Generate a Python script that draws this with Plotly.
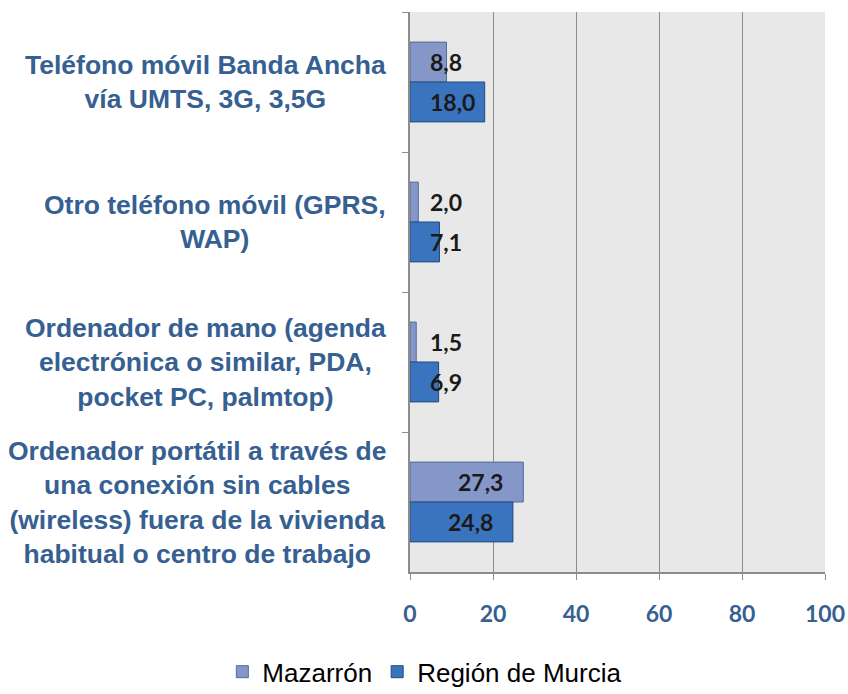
import plotly.graph_objects as go

categories = [
    "Teléfono móvil Banda Ancha<br>vía UMTS, 3G, 3,5G",
    "Otro teléfono móvil (GPRS,<br>WAP)",
    "Ordenador de mano (agenda<br>electrónica o similar, PDA,<br>pocket PC, palmtop)",
    "Ordenador portátil a través de<br>una conexión sin cables<br>(wireless) fuera de la vivienda<br>habitual o centro de trabajo",
]
series_names = ["Mazarrón", "Región de Murcia"]
mazarron = [8.8, 2.0, 1.5, 27.3]
murcia = [18.0, 7.1, 6.9, 24.8]
x_ticks = [0, 20, 40, 60, 80, 100]

BLUE_TXT = "#366092"
fig = go.Figure()
fig.add_trace(go.Bar(
    name=series_names[0], y=categories, x=mazarron, orientation="h",
    marker=dict(color="#8497C8", line=dict(color="#55699A", width=1)),
))
fig.add_trace(go.Bar(
    name=series_names[1], y=categories, x=murcia, orientation="h",
    marker=dict(color="#3A74BE", line=dict(color="#244A7C", width=1)),
))

ann = []
for c in categories:
    ann.append(dict(
        xref="paper", yref="y", x=-0.053, y=c, xanchor="right", yanchor="middle",
        text="<b>%s</b>" % c, align="center", showarrow=False,
        font=dict(family="Liberation Sans, Arial, sans-serif", size=26.5, color=BLUE_TXT),
    ))
for vals, ysh in ((mazarron, 20), (murcia, -20)):
    for c, v in zip(categories, vals):
        lbl = ("%.1f" % v).replace(".", ",")
        if v < 22:
            a = dict(x=0, xanchor="left", xshift=18)
        else:
            a = dict(x=v, xanchor="right", xshift=-18)
        a.update(xref="x", yref="y", y=c, yshift=ysh, yanchor="middle",
                 text="<b>%s</b>" % lbl, showarrow=False,
                 font=dict(family="Lato", size=23, color="#1a1a1a"))
        ann.append(a)

fig.update_layout(
    width=848, height=694,
    margin=dict(l=410, r=23, t=12, b=122, autoexpand=False),
    paper_bgcolor="white", plot_bgcolor="#E8E8E8",
    barmode="group", bargap=0.43, bargroupgap=0,
    showlegend=True,
    legend=dict(orientation="h", xref="container", yref="container",
                x=0.501, xanchor="center", y=0.032, yanchor="middle",
                font=dict(family="Liberation Sans, Arial, sans-serif", size=26, color="#000000"),
                itemwidth=30, traceorder="normal"),
    annotations=ann,
    xaxis=dict(range=[0, 100], tickvals=x_ticks, showgrid=True, automargin=False,
               gridcolor="#8C8C8C", gridwidth=1.2, zeroline=False,
               showline=True, linecolor="#8C8C8C", linewidth=1.5,
               ticks="outside", ticklen=6, tickcolor="#8C8C8C",
               ticklabelstandoff=15,
               tickfont=dict(family="Lato", size=23, color=BLUE_TXT, weight="bold")),
    yaxis=dict(autorange="reversed", type="category", showticklabels=False, automargin=False,
               showline=True, linecolor="#8C8C8C", linewidth=1.5,
               ticks="outside", tickson="boundaries", ticklen=6,
               tickcolor="#8C8C8C", showgrid=False),
)
fig.write_html("out.html", config={"displayModeBar": False},
               post_script="document.body.style.margin='0';")
